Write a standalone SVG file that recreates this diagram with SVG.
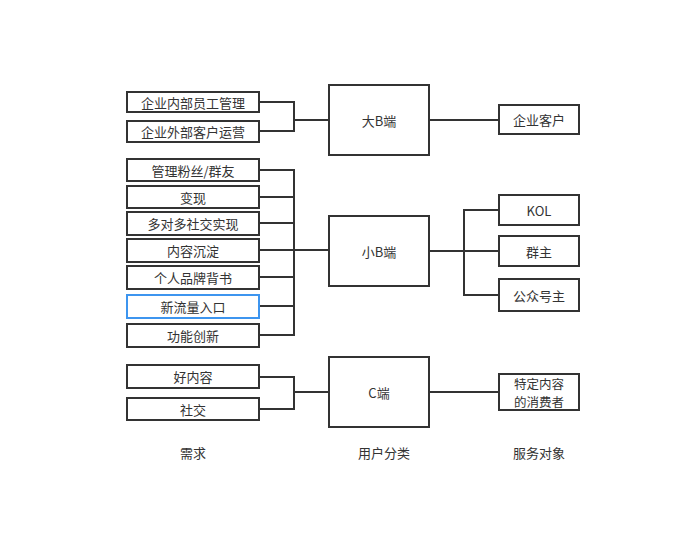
<svg xmlns="http://www.w3.org/2000/svg" width="681" height="534" viewBox="0 0 681 534">
<style>
rect{fill:#fff;stroke:#333;stroke-width:2}
rect.sel{stroke:#3d95ef}
text{font-family:"Noto Sans CJK SC","Liberation Sans",sans-serif;font-size:13px;fill:#333;text-anchor:middle;dominant-baseline:central}
#connectors path{fill:none;stroke:#333;stroke-width:2}
</style>
<rect x="0" y="0" width="681" height="534" style="stroke:none"/>
<g id="connectors">
<path d="M259 102H294V131H259M294 120H329"/>
<path d="M259 170H294V335H259M259 197H294M259 223H294M259 250H329M259 277H294M259 306H294"/>
<path d="M259 377H294V409H259M294 392H329"/>
<path d="M429 120H499"/>
<path d="M429 251H499M464 251V210H499M464 251V295H499"/>
<path d="M429 392H499"/>
</g>
<g id="n1"><rect x="127" y="92" width="132" height="20"/><text x="193" y="102">企业内部员工管理</text></g>
<g id="n2"><rect x="127" y="121" width="132" height="21"/><text x="193" y="131.5">企业外部客户运营</text></g>
<g id="n3"><rect x="127" y="159" width="132" height="22"/><text x="193" y="170">管理粉丝/群友</text></g>
<g id="n4"><rect x="127" y="186" width="132" height="22"/><text x="193" y="197">变现</text></g>
<g id="n5"><rect x="127" y="212" width="132" height="23"/><text x="193" y="223.5">多对多社交实现</text></g>
<g id="n6"><rect x="127" y="239" width="132" height="23"/><text x="193" y="250.5">内容沉淀</text></g>
<g id="n7"><rect x="127" y="266" width="132" height="23"/><text x="193" y="277.5">个人品牌背书</text></g>
<g id="n8"><rect class="sel" x="127" y="295" width="132" height="23"/><text x="193" y="306.5">新流量入口</text></g>
<g id="n9"><rect x="127" y="324" width="132" height="23"/><text x="193" y="335.5">功能创新</text></g>
<g id="n10"><rect x="127" y="365" width="132" height="23"/><text x="193" y="376.5">好内容</text></g>
<g id="n11"><rect x="127" y="398" width="132" height="22"/><text x="193" y="409">社交</text></g>
<g id="bigB"><rect x="329" y="85" width="100" height="70"/><text x="379" y="120">大B端</text></g>
<g id="smallB"><rect x="329" y="216" width="100" height="70"/><text x="379" y="251">小B端</text></g>
<g id="C"><rect x="329" y="357" width="100" height="70"/><text x="379" y="392">C端</text></g>
<g id="r1"><rect x="499" y="105" width="80" height="29"/><text x="539" y="119.5">企业客户</text></g>
<g id="r2"><rect x="499" y="195" width="80" height="30"/><text x="539" y="210">KOL</text></g>
<g id="r3"><rect x="499" y="236" width="80" height="30"/><text x="539" y="251">群主</text></g>
<g id="r4"><rect x="499" y="279" width="80" height="32"/><text x="539" y="295">公众号主</text></g>
<g id="r5"><rect x="499" y="374" width="80" height="36"/><text x="539" y="383" style="font-size:12.5px">特定内容</text><text x="539" y="401" style="font-size:12.5px">的消费者</text></g>
<text x="193" y="452">需求</text>
<text x="384" y="452">用户分类</text>
<text x="539" y="452">服务对象</text>
</svg>
